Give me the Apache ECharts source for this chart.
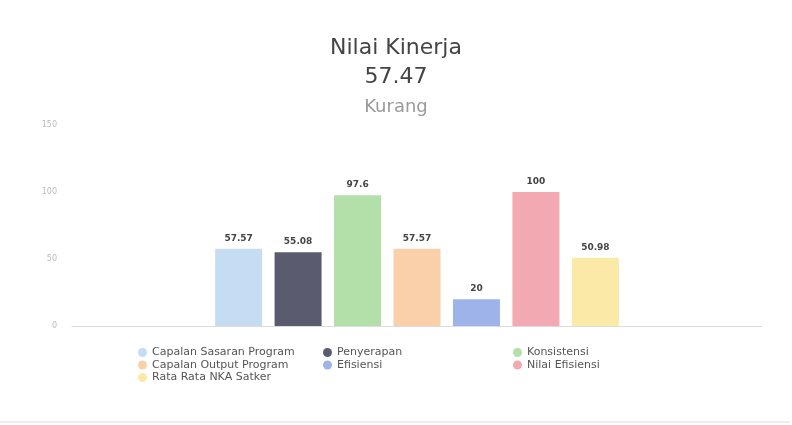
<!DOCTYPE html>
<html>
<head>
<meta charset="utf-8">
<script src="https://cdn.jsdelivr.net/npm/echarts@6/dist/echarts.min.js"></script>
<style>html,body{margin:0;padding:0;background:#fff}#c{width:792px;height:425px}</style>
</head>
<body>
<div id="c"></div>
<script>
var seriesNames = ['Capalan Sasaran Program','Penyerapan','Konsistensi','Capalan Output Program','Efisiensi','Nilai Efisiensi','Rata Rata NKA Satker'];
var seriesValues = [57.57, 55.08, 97.6, 57.57, 20, 100, 50.98];
var seriesColors = ['#c6dcf3','#5b5b6f','#b3dfa9','#f9d0aa','#9db3ea','#f3a9b1','#fbe9a8'];
var categories = [''];
var yTicks = [0, 50, 100, 150];
var titleMain = 'Nilai Kinerja';
var titleValue = '57.47';
var titleGrade = 'Kurang';
var legendCol1 = ['Capalan Sasaran Program','Capalan Output Program','Rata Rata NKA Satker'];
var legendCol2 = ['Penyerapan','Efisiensi'];
var legendCol3 = ['Konsistensi','Nilai Efisiensi'];

var FONT = 'DejaVu Sans';
var chart = echarts.init(document.getElementById('c'), null, {renderer:'canvas'});
var series = seriesNames.map(function(n,i){
  return {
    name: n, type: 'bar', data: [seriesValues[i]],
    barWidth: 47, barGap: '26.5%',
    itemStyle: {color: seriesColors[i]},
    label: {show: true, position: 'top', distance: 6, color: '#444', fontFamily: FONT, fontSize: 9, fontWeight: 'bold'}
  };
});
function legend(data, left){
  return {data: data, orient: 'vertical', left: left, top: 342, itemWidth: 9, itemHeight: 9, itemGap: 1.5,
    icon: 'circle', textStyle: {fontFamily: FONT, fontSize: 11, color: '#555'}, selectedMode: false};
}
chart.setOption({
  animation: false,
  title: [
    {text: titleMain, left: 'center', top: 32, textStyle: {fontFamily: FONT, fontSize: 22, fontWeight: 'normal', color: '#444'}},
    {text: titleValue, left: 'center', top: 61, textStyle: {fontFamily: FONT, fontSize: 22, fontWeight: 'normal', color: '#444'}},
    {text: titleGrade, left: 'center', top: 93, textStyle: {fontFamily: FONT, fontSize: 18, fontWeight: 'normal', color: '#999'}}
  ],
  legend: [legend(legendCol1, 133), legend(legendCol2, 318), legend(legendCol3, 508)],
  grid: {left: 72, right: 30, top: 125, bottom: 99, containLabel: false},
  xAxis: {type: 'category', data: categories, axisLine: {show: true, lineStyle: {color: '#ddd'}}, axisTick: {show: false}, axisLabel: {show: false}},
  yAxis: {type: 'value', min: yTicks[0], max: yTicks[yTicks.length-1], interval: yTicks[1]-yTicks[0],
    splitLine: {show: false}, axisLine: {show: false}, axisTick: {show: false},
    axisLabel: {margin: 15, color: '#bbb', fontFamily: FONT, fontSize: 8}},
  graphic: [{type: 'line', shape: {x1: 0, y1: 422, x2: 790, y2: 422}, style: {stroke: '#ddd', lineWidth: 1}}],
  series: series
});
</script>
</body>
</html>
